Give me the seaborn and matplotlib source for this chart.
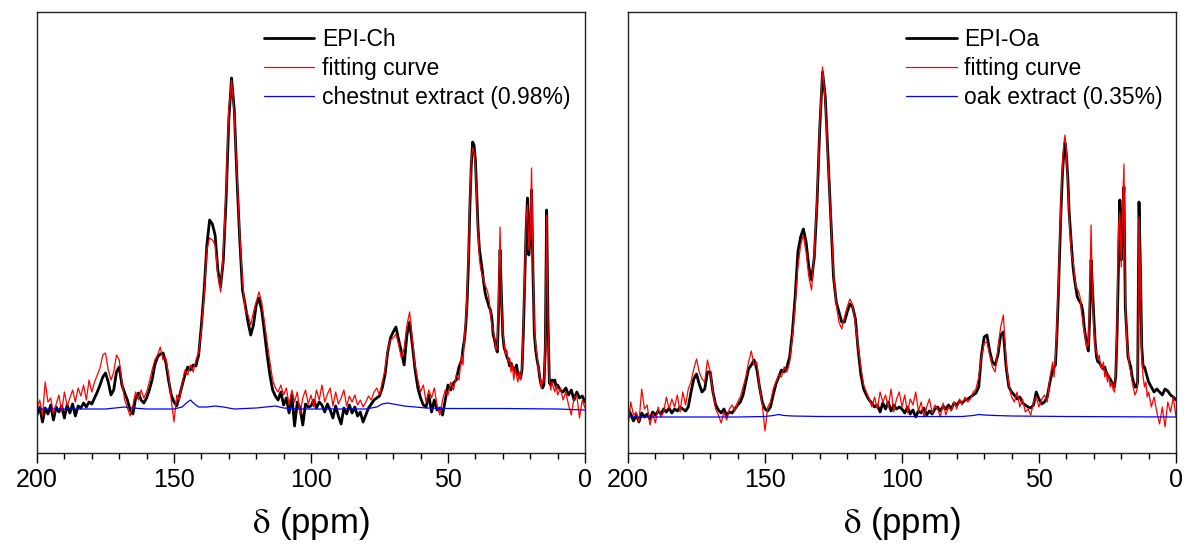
import numpy as np
import pandas as pd
import matplotlib
matplotlib.use("Agg")
import matplotlib.pyplot as plt
import seaborn as sns

# chemical shift sampling grid (ppm): 1 ppm steps, 0.5 ppm in the aliphatic region
ppm = np.concatenate([np.arange(200, 45, -1.0), np.arange(45, 10, -0.5), np.arange(10, -0.5, -1.0)])

ch_black = [
    -5, 3, -12, 2, -4, 5, -10, 3, -2, 4,
    -8, 5, -3, 6, -6, 4, 2, 7, 3, 8,
    6, 12, 18, 25, 33, 37, 28, 15, 20, 38,
    43, 25, 17, 10, 0, -4, 12, 17, 10, 7,
    12, 20, 30, 45, 53, 56, 57, 48, 30, 15,
    8, 4, 14, 25, 35, 43, 40, 45, 44, 55,
    85, 120, 165, 190, 186, 175, 140, 123, 150, 210,
    290, 332, 300, 230, 170, 120, 105, 88, 75, 85,
    105, 112, 100, 78, 55, 35, 20, 14, 10, 18,
    5, 12, -3, 15, -16, 8, 2, -15, 6, 3,
    4, 10, 2, 8, 5, -2, 6, 0, -8, 4,
    -6, -14, 2, -4, 5, -3, 3, -6, -2, -12,
    -5, 2, 6, 10, 12, 14, 22, 35, 58, 72,
    78, 83, 70, 58, 45, 75, 88, 65, 40, 22,
    12, 5, 3, 15, -2, 10, 0, 2, -5, 10,
    25, 20, 27, 30, 43,
    50, 62, 70, 85, 110, 150, 205, 245, 268, 265,
    250, 215, 180, 160, 150, 140, 128, 118, 112, 108,
    103, 100, 92, 75, 70, 62, 58, 100, 160, 115,
    75, 62, 58, 53, 50, 44, 47, 43, 42, 38,
    45, 36, 34, 32, 40, 77, 130, 180, 212, 155,
    175, 220, 140, 77, 60, 50, 43, 32, 25, 22,
    25, 60, 200, 90, 27, 25, 30, 28, 30, 22,
    25, 20, 18, 22, 15, 20, 10, 18, 12, 14, 8,
]

ch_fit = [
    2, 10, -6, 28, 8, 12, -4, 6, 15, -2,
    18, 4, 12, 20, 8, 22, 14, 25, 10, 30,
    18, 28, 35, 42, 55, 57, 40, 30, 38, 55,
    50, 28, 10, 2, -6, 5, 18, 10, 20, 12,
    18, 28, 40, 50, 55, 63, 50, 52, 35, 10,
    -12, 15, 10, 28, 40, 35, 45, 38, 50, 58,
    80, 115, 160, 172, 170, 165, 135, 118, 160, 220,
    300, 330, 295, 235, 175, 128, 100, 95, 85, 98,
    108, 118, 108, 88, 68, 48, 30, 22, 18, 25,
    15, 22, 5, 20, 8, 18, -4, 12, 20, 6,
    15, 3, 20, 10, 25, 8, 16, 22, 4, 18,
    6, 12, 20, 4, 14, 8, 15, 5, 10, 3,
    8, 14, 10, 18, 22, 15, 28, 40, 60, 70,
    72, 76, 65, 52, 62, 85, 98, 70, 45, 30,
    18, 25, 8, 20, 12, 22, 5, -5, 10, 20,
    15, 28, 20, 35, 30,
    55, 45, 75, 90, 120, 160, 215, 250, 262, 258,
    245, 210, 175, 150, 140, 135, 130, 125, 122, 118,
    110, 96, 85, 80, 72, 60, 65, 120, 183, 110,
    80, 65, 55, 60, 48, 52, 38, 45, 30, 42,
    35, 28, 38, 30, 45, 85, 140, 190, 205, 160,
    175, 242, 150, 85, 65, 55, 40, 35, 22, 30,
    28, 70, 195, 85, 30, 20, 28, 22, 18, 25,
    15, 22, 10, 18, 5, -5, 12, 15, -8, 10, 2,
]

oa_black = [
    8, 3, -4, 2, -5, 4, 0, 3, -2, 5,
    2, 6, 3, 8, 5, 9, 4, 8, 6, 10,
    8, 6, 10, 25, 38, 43, 33, 25, 28, 45,
    45, 25, 12, 7, 4, 8, 2, 5, 4, 8,
    12, 15, 22, 35, 48, 52, 57, 48, 30, 15,
    8, 6, 10, 22, 33, 40, 47, 45, 50, 60,
    85, 120, 165, 180, 188, 175, 150, 137, 160, 215,
    290, 345, 320, 260, 200, 140, 115, 105, 95, 95,
    105, 113, 110, 98, 67, 42, 28, 22, 17, 14,
    10, 12, 5, 14, 8, 15, 6, 12, 8, 10,
    8, 4, 10, 3, 7, 0, 6, 4, 9, 2,
    6, 3, 8, 10, 6, 11, 8, 12, 8, 14,
    12, 16, 14, 17, 18, 20, 22, 24, 30, 62,
    80, 82, 66, 55, 52, 62, 82, 85, 50, 30,
    25, 22, 18, 20, 14, 12, 10, 9, 12, 25,
    18, 13, 15, 20, 35,
    47, 50, 52, 80, 117, 160, 205, 240, 262, 274,
    262, 240, 205, 185, 165, 148, 137, 128, 120, 117,
    115, 112, 105, 90, 80, 72, 66, 100, 157, 130,
    100, 75, 60, 55, 55, 52, 50, 48, 50, 45,
    42, 40, 38, 35, 32, 30, 40, 84, 150, 217,
    157, 200, 230, 110, 84, 60, 55, 50, 40, 35,
    30, 30, 35, 215, 150, 70, 50, 50, 45, 40,
    35, 30, 25, 28, 25, 22, 28, 26, 22, 20, 17,
]

oa_fit = [
    -10, 15, 2, 5, -5, 28, 8, 12, -8, 3,
    -6, 10, 0, 5, 20, 8, 18, 10, 22, 5,
    25, 12, 28, 35, 48, 58, 45, 38, 35, 57,
    45, 25, 8, 2, -6, 5, -3, 8, 12, 6,
    15, 20, 30, 40, 55, 66, 52, 55, 30, 12,
    -14, 10, 15, 28, 35, 42, 40, 50, 45, 55,
    80, 110, 150, 172, 182, 165, 140, 127, 165, 220,
    295, 350, 315, 255, 200, 145, 112, 95, 88, 100,
    110, 118, 112, 92, 70, 50, 32, 25, 18, 10,
    20, 8, 25, 15, 22, 10, 28, 5, 18, 25,
    10, 22, 4, 18, 12, 25, 6, 15, 0, 10,
    18, 4, 12, 8, 0, 14, 2, 10, 6, 15,
    8, 18, 12, 20, 15, 18, 25, 28, 40, 60,
    74, 75, 62, 50, 45, 68, 90, 102, 55, 32,
    20, 15, 25, 10, 18, 5, 8, 2, 15, 20,
    10, 18, 22, 15, 40,
    55, 40, 60, 90, 125, 170, 215, 250, 272, 282,
    265, 235, 200, 175, 160, 155, 140, 130, 128, 125,
    120, 105, 95, 85, 78, 70, 72, 120, 192, 125,
    90, 70, 65, 58, 62, 50, 48, 55, 40, 45,
    35, 42, 30, 35, 28, 25, 45, 95, 190, 205,
    150, 210, 253, 120, 75, 65, 50, 45, 35, 28,
    22, 25, 30, 200, 145, 60, 40, 30, 35, 20,
    25, 10, 20, 5, -7, 10, -10, 15, 5, 20, 0,
]

ch_ext_ppm = [200, 175, 168, 165, 160, 150, 147, 145.5, 144, 142.5, 141, 138, 135, 132, 128,
              120, 113, 110, 105, 100, 80, 76, 74, 72, 70, 66, 62, 58, 50, 30, 10, 0]
ch_ext = [1, 1, 3, 2, 1, 1, 3, 7, 10, 6, 3, 3, 4, 3, 1,
          2, 4, 2, 1, 1, 1, 3, 6, 7, 6, 4, 3, 2, 1.5, 1.5, 1, 0]

oa_ext_ppm = [200, 160, 150, 147, 145, 143, 140, 130, 100, 78, 74, 72, 70, 66, 60, 40, 0]
oa_ext = [0, 0, 0.5, 1.5, 2.5, 1.5, 1, 0.5, 0.5, 0.5, 1.5, 2.5, 2, 1.5, 1, 0.5, 0]

labels_left = ["EPI-Ch", "fitting curve", "chestnut extract (0.98%)"]
labels_right = ["EPI-Oa", "fitting curve", "oak extract (0.35%)"]
x_ticks = [200, 150, 100, 50, 0]
x_label = r"$\mathrm{\delta}$ (ppm)"

sns.set_theme(style="ticks")
plt.rcParams["font.family"] = ["Liberation Sans", "DejaVu Sans"]
plt.rcParams["mathtext.fontset"] = "stix"
plt.rcParams["text.color"] = "black"
plt.rcParams["axes.labelcolor"] = "black"
plt.rcParams["xtick.color"] = "black"

fig = plt.figure(figsize=(11.86, 5.46), dpi=100)
ax_l = fig.add_axes([37 / 1186, 93 / 546, 548 / 1186, 441 / 546])
ax_r = fig.add_axes([628 / 1186, 93 / 546, 548 / 1186, 441 / 546])

panels = [
    (ax_l, ch_black, ch_fit, ch_ext_ppm, ch_ext, labels_left, (-43, 398), 0.406),
    (ax_r, oa_black, oa_fit, oa_ext_ppm, oa_ext, labels_right, (-36, 405), 0.4995),
]

for ax, blk, fit, ep, ev, labs, ylim, lx in panels:
    sns.lineplot(x=ppm, y=blk, ax=ax, color="black", lw=2.0, label=labs[0], estimator=None, sort=False)
    sns.lineplot(x=ppm, y=fit, ax=ax, color="#ff0000", lw=0.9, label=labs[1], estimator=None, sort=False)
    sns.lineplot(x=ep, y=ev, ax=ax, color="#0000ff", lw=0.9, label=labs[2], estimator=None, sort=False)
    ax.set_xlim(200, 0)
    ax.set_ylim(*ylim)
    ax.set_xticks(x_ticks)
    ax.set_xticks(np.arange(190, 0, -10), minor=True)
    ax.set_yticks([])
    ax.set_ylabel("")
    ax.set_xlabel(x_label, fontsize=25, labelpad=9)
    ax.tick_params(axis="x", which="major", direction="out", length=7, width=1.0,
                   labelsize=18, pad=4, colors="black")
    ax.tick_params(axis="x", which="minor", direction="out", length=4, width=1.0)
    for s in ax.spines.values():
        s.set_visible(True)
        s.set_color("#222222")
        s.set_linewidth(1.0)
    leg = ax.legend(loc="upper left", bbox_to_anchor=(lx, 0.974), frameon=False,
                    fontsize=16.5, handlelength=2.2, handletextpad=0.33,
                    labelspacing=0.27, borderaxespad=0.0, borderpad=0.2)

fig.savefig("out.png", dpi=100)
